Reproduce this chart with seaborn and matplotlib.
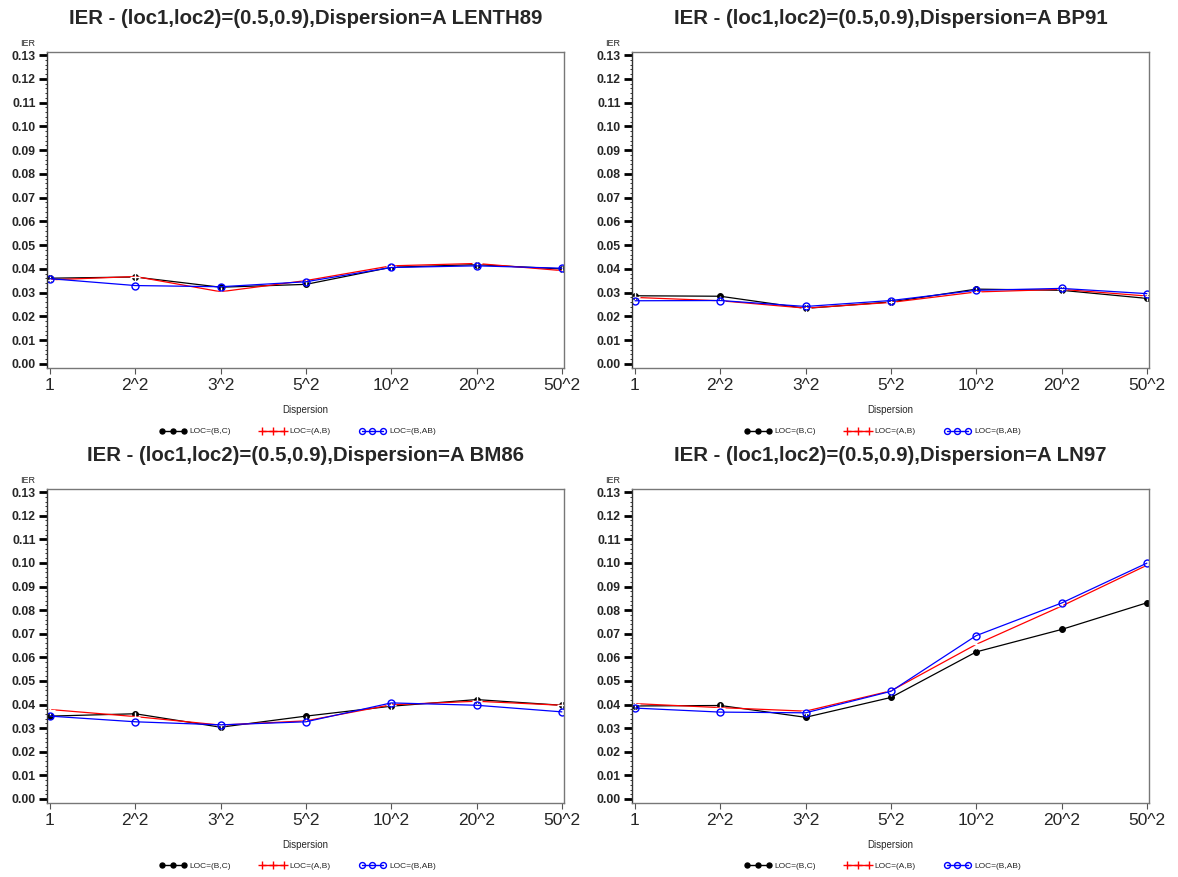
import numpy as np
import pandas as pd
import matplotlib
matplotlib.use("Agg")
import matplotlib.pyplot as plt
from matplotlib.lines import Line2D
from matplotlib.ticker import MultipleLocator
import seaborn as sns

categories = ["1", "2^2", "3^2", "5^2", "10^2", "20^2", "50^2"]
series_names = ["LOC=(B,C)", "LOC=(A,B)", "LOC=(B,AB)"]
panel_names = ["LENTH89", "BP91", "BM86", "LN97"]

lenth89_bc = [0.0361, 0.0366, 0.0323, 0.0335, 0.0407, 0.0418, 0.0400]
lenth89_ab = [0.0354, 0.0368, 0.0304, 0.0351, 0.0413, 0.0423, 0.0393]
lenth89_bab = [0.0359, 0.0330, 0.0325, 0.0346, 0.0406, 0.0413, 0.0403]

bp91_bc = [0.0287, 0.0285, 0.0234, 0.0261, 0.0315, 0.0310, 0.0276]
bp91_ab = [0.0280, 0.0266, 0.0235, 0.0259, 0.0303, 0.0314, 0.0286]
bp91_bab = [0.0266, 0.0267, 0.0242, 0.0267, 0.0310, 0.0318, 0.0296]

bm86_bc = [0.0351, 0.0361, 0.0304, 0.0351, 0.0393, 0.0421, 0.0397]
bm86_ab = [0.0379, 0.0349, 0.0313, 0.0331, 0.0399, 0.0414, 0.0397]
bm86_bab = [0.0351, 0.0327, 0.0314, 0.0327, 0.0407, 0.0397, 0.0369]

ln97_bc = [0.0394, 0.0396, 0.0346, 0.0430, 0.0623, 0.0718, 0.0831]
ln97_ab = [0.0404, 0.0387, 0.0372, 0.0458, 0.0655, 0.0817, 0.0990]
ln97_bab = [0.0385, 0.0368, 0.0365, 0.0456, 0.0692, 0.0830, 0.0999]

y_ticks = [0.00, 0.01, 0.02, 0.03, 0.04, 0.05, 0.06, 0.07, 0.08, 0.09, 0.10, 0.11, 0.12, 0.13]

panel_data = {
    "LENTH89": [lenth89_bc, lenth89_ab, lenth89_bab],
    "BP91": [bp91_bc, bp91_ab, bp91_bab],
    "BM86": [bm86_bc, bm86_ab, bm86_bab],
    "LN97": [ln97_bc, ln97_ab, ln97_bab],
}

sns.set_theme(style="white")
plt.rcParams['font.family'] = ['Liberation Sans', 'DejaVu Sans']

colors = ["#000000", "#ff0000", "#0000ff"]
styles = [
    dict(marker="o", markersize=4.2, markerfacecolor="#000000", markeredgecolor="#000000"),
    dict(marker="+", markersize=7, markeredgewidth=1.0),
    dict(marker="o", markersize=5, markerfacecolor="none", markeredgecolor="#0000ff", markeredgewidth=1.0),
]

fig = plt.figure(figsize=(11.78, 8.77), dpi=100)
W, H = 1178, 877
boxes = [
    (47, 52, 564, 368),
    (632, 52, 1149, 368),
    (47, 489, 564, 803),
    (632, 489, 1149, 803),
]
x_idx = np.arange(len(categories))

for name, (x0, y0, x1, y1) in zip(panel_names, boxes):
    ax = fig.add_axes([x0 / W, 1 - y1 / H, (x1 - x0) / W, (y1 - y0) / H])
    rows = []
    for s, vals in zip(series_names, panel_data[name]):
        for xi, v in zip(x_idx, vals):
            rows.append({"x": xi, "IER": v, "series": s})
    df = pd.DataFrame(rows)
    for s, c, st in zip(series_names, colors, styles):
        sub = df[df["series"] == s]
        sns.lineplot(data=sub, x="x", y="IER", ax=ax, color=c, linewidth=0.9,
                     legend=False, **st)
    ax.set_xlim(-0.035, 6.025)
    ax.set_ylim(-0.0017, 0.1313)
    ax.set_xticks(x_idx)
    ax.set_xticklabels(categories, fontsize=12.5)
    ax.set_yticks(y_ticks)
    ax.set_yticklabels([f"{t:.2f}" for t in y_ticks], fontsize=8.8, fontweight="bold")
    ax.yaxis.set_minor_locator(MultipleLocator(0.002))
    ax.tick_params(axis="y", which="major", direction="out", length=6, width=2,
                   color="black", pad=2, left=True)
    ax.tick_params(axis="y", which="minor", direction="out", length=1.5, width=0.7,
                   color="#333333", left=True)
    ax.tick_params(axis="x", which="major", direction="out", length=4, width=0.8,
                   color="#555555", pad=3, bottom=True)
    for sp in ["top", "right", "bottom"]:
        ax.spines[sp].set_color("#777777")
        ax.spines[sp].set_linewidth(1.0)
    ax.spines["left"].set_color("#333333")
    ax.spines["left"].set_linewidth(1.0)
    ax.set_xlabel("Dispersion", fontsize=7, labelpad=9)
    ax.set_ylabel("")
    ax.text(-0.037, 1.012, "IER", transform=ax.transAxes, fontsize=6.5,
            ha="center", va="bottom")
    ax.set_title(f"IER - (loc1,loc2)=(0.5,0.9),Dispersion=A {name}",
                 fontsize=14.7, fontweight="bold", pad=20)
    handles = [Line2D([], [], color=c, linewidth=1.0, **st) for c, st in zip(colors, styles)]
    for h in handles:
        h.set_markersize(h.get_markersize() * 0.85)
    ax.legend(handles, series_names, loc="upper center", bbox_to_anchor=(0.485, -0.165),
              ncol=3, frameon=False, fontsize=6, numpoints=3, handlelength=3.2,
              columnspacing=3.4, handletextpad=0.4)

fig.savefig("out.png", dpi=100)
